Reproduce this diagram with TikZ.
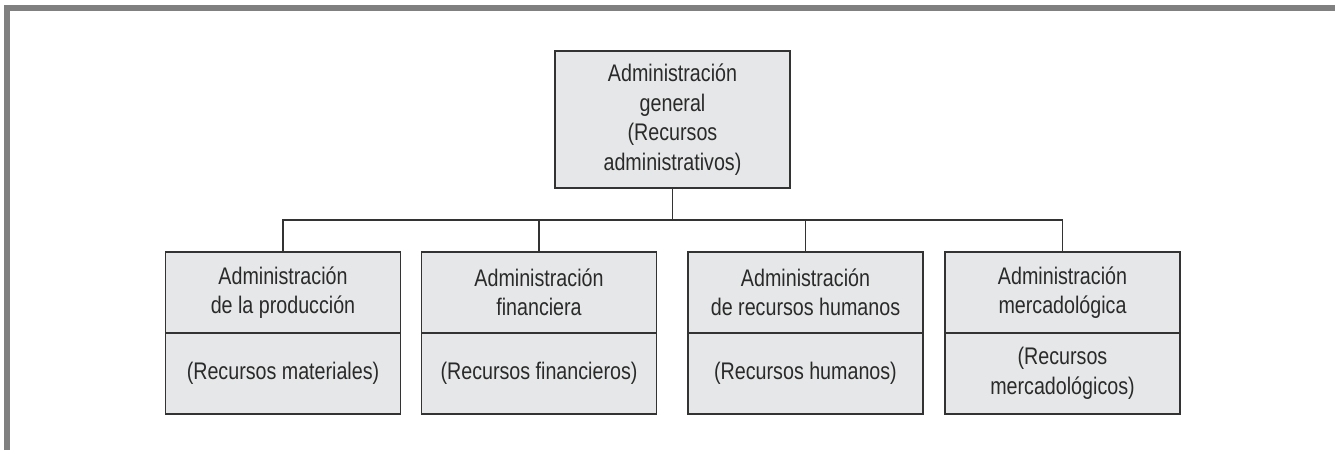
\documentclass[tikz,border=0pt]{standalone}
\usepackage{fontspec}
\setmainfont{Liberation Sans}[FakeStretch=0.82]
\definecolor{framegray}{HTML}{808080}
\definecolor{boxfill}{HTML}{E6E7E8}
\definecolor{boxline}{HTML}{333333}
\definecolor{txt}{HTML}{2A2A2A}
\tikzset{
  orgbox/.style={draw=boxline, fill=boxfill, line width=1.2pt, minimum width=235pt,
    inner sep=0pt, align=center, text=txt, font=\fontsize{24}{29.5}\selectfont},
  halfbox/.style={orgbox, minimum height=81pt},
  link/.style={draw=boxline, line width=1.2pt}
}
\begin{document}
\begin{tikzpicture}[x=1pt,y=-1pt]
\useasboundingbox (0,0) rectangle (1335,450);
\fill[framegray] (4,5) rectangle (1335,11);
\fill[framegray] (4,5) rectangle (10,450);

\node[orgbox, minimum height=137pt] (top) at (672.5,119.5)
  {Administración\\general\\(Recursos\\administrativos)};

\node[halfbox] (a) at (283,292.5) {Administración\\de la producción};
\node[halfbox] (al) at (283,373.5) {(Recursos materiales)};
\node[halfbox] (b) at (539,292.5) {Administración\\financiera};
\node[halfbox] (bl) at (539,373.5) {(Recursos financieros)};
\node[halfbox] (c) at (805.5,292.5) {Administración\\de recursos humanos};
\node[halfbox] (cl) at (805.5,373.5) {(Recursos humanos)};
\node[halfbox] (d) at (1062.5,292.5) {Administración\\mercadológica};
\node[halfbox] (dl) at (1062.5,373.5) {(Recursos\\mercadológicos)};

\coordinate (bus) at (672.5,220);
\draw[link] (top.south) -- (bus);
\foreach \n in {a,b,c,d} \draw[link] (bus) -| (\n.north);
\end{tikzpicture}
\end{document}
